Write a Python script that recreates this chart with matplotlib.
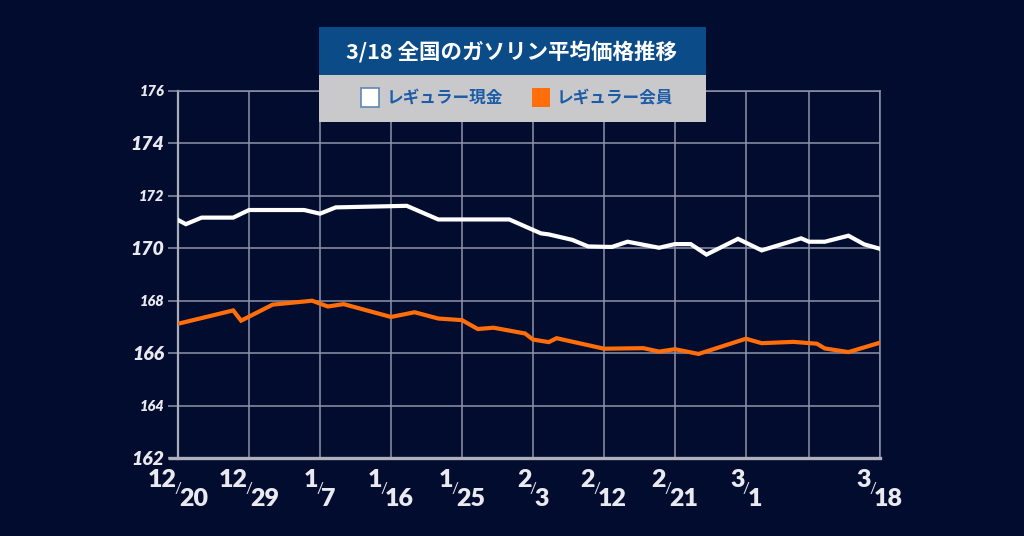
import matplotlib
matplotlib.use("Agg")
import matplotlib.pyplot as plt
import pandas as pd
from matplotlib.patches import Rectangle
from matplotlib.transforms import blended_transform_factory, offset_copy

# ---------------- data ----------------
cash_dates = ["2023-12-20", "2023-12-21", "2023-12-23", "2023-12-27", "2023-12-29",
              "2024-01-05", "2024-01-07", "2024-01-09", "2024-01-18", "2024-01-22",
              "2024-01-31", "2024-02-04", "2024-02-05", "2024-02-08", "2024-02-10",
              "2024-02-13", "2024-02-15", "2024-02-19", "2024-02-21", "2024-02-23",
              "2024-02-25", "2024-02-29", "2024-03-03", "2024-03-08", "2024-03-09",
              "2024-03-11", "2024-03-14", "2024-03-16", "2024-03-18"]
cash_values = [171.08, 170.92, 171.17, 171.17, 171.46,
               171.46, 171.32, 171.56, 171.62, 171.10,
               171.10, 170.57, 170.53, 170.32, 170.07,
               170.05, 170.25, 170.02, 170.16, 170.16,
               169.76, 170.36, 169.92, 170.38, 170.25,
               170.25, 170.48, 170.15, 169.98]

member_dates = ["2023-12-20", "2023-12-27", "2023-12-28", "2024-01-01", "2024-01-06",
                "2024-01-08", "2024-01-10", "2024-01-16", "2024-01-19", "2024-01-22",
                "2024-01-25", "2024-01-27", "2024-01-29", "2024-02-02", "2024-02-03",
                "2024-02-05", "2024-02-06", "2024-02-12", "2024-02-17", "2024-02-19",
                "2024-02-21", "2024-02-24", "2024-03-01", "2024-03-03", "2024-03-07",
                "2024-03-10", "2024-03-11", "2024-03-14", "2024-03-18"]
member_values = [167.12, 167.63, 167.24, 167.85, 168.00,
                 167.78, 167.87, 167.38, 167.56, 167.32,
                 167.26, 166.92, 166.97, 166.75, 166.52,
                 166.42, 166.57, 166.17, 166.19, 166.06,
                 166.15, 165.97, 166.55, 166.38, 166.43,
                 166.36, 166.18, 166.04, 166.40]

grid_dates = ["2023-12-20", "2023-12-29", "2024-01-07", "2024-01-16", "2024-01-25",
              "2024-02-03", "2024-02-12", "2024-02-21", "2024-03-01", "2024-03-09",
              "2024-03-18"]
label_dates = ["2023-12-20", "2023-12-29", "2024-01-07", "2024-01-16", "2024-01-25",
               "2024-02-03", "2024-02-12", "2024-02-21", "2024-03-01", "2024-03-18"]
label_num = ["12", "12", "1", "1", "1", "2", "2", "2", "3", "3"]
label_den = ["20", "29", "7", "16", "25", "3", "12", "21", "1", "18"]

y_ticks = [162, 164, 166, 168, 170, 172, 174, 176]
y_labels = ["162", "164", "166", "168", "170", "172", "174", "176"]
y_label_sizes = [14, 10.5, 14, 10.5, 14, 10.5, 14, 10.5]

title = "3/18 全国のガソリン平均価格推移"
legend_labels = ["レギュラー現金", "レギュラー会員"]

# ---------------- style ----------------
BG = "#010c2e"
GRID = "#8d93a8"
WHITE = "#ffffff"
ORANGE = "#ff6e0a"
TITLE_BG = "#0b4b87"
LEG_BG = "#c9c9cb"
LEG_TXT = "#1d5ca6"
TICK_TXT = "#e9e9ef"

plt.rcParams['font.family'] = ['Noto Sans CJK JP', 'DejaVu Sans']

fig = plt.figure(figsize=(10.24, 5.36), dpi=100, facecolor=BG)
W, H = 1024, 536
ax = fig.add_axes([178 / W, 1 - 458 / H, 702 / W, 367 / H])
ax.set_facecolor(BG)

cd = pd.to_datetime(cash_dates)
md = pd.to_datetime(member_dates)
ax.plot(cd, cash_values, color=WHITE, lw=3.0, solid_joinstyle='miter', zorder=3)
ax.plot(md, member_values, color=ORANGE, lw=3.0, solid_joinstyle='miter', zorder=3)

gd = pd.to_datetime(grid_dates)
ax.set_xlim(gd[0], gd[-1])
ax.set_ylim(162, 176)
ax.set_xticks(gd)
ax.set_xticklabels([])
ax.tick_params(axis='x', length=0)
ax.set_yticks(y_ticks)
ax.set_yticklabels(y_labels)
ax.tick_params(axis='y', length=7, width=1.1, color=GRID, pad=3, labelcolor=TICK_TXT)
for lab, s in zip(ax.get_yticklabels(), y_label_sizes):
    lab.set_fontsize(s)
    lab.set_fontfamily(['Lato', 'DejaVu Sans'])
    lab.set_fontweight('heavy')
    lab.set_fontstyle('italic')

ax.grid(True, color=GRID, lw=1.1, zorder=1)
ax.set_axisbelow(True)
for side in ['top', 'right']:
    ax.spines[side].set_color(GRID)
    ax.spines[side].set_linewidth(1.1)
ax.spines['left'].set_color('#a9adba')
ax.spines['left'].set_linewidth(1.6)
ax.spines['bottom'].set_color('#aeb1bc')
ax.spines['bottom'].set_linewidth(2.4)

# extend bottom line slightly left
ax.plot([-0.014, 0], [0, 0], transform=ax.transAxes, color='#aeb1bc', lw=2.4,
        clip_on=False, solid_capstyle='butt')

# ---------------- x tick labels (fraction style) ----------------
renderer = fig.canvas.get_renderer()
num_kw = dict(fontsize=18, fontweight='heavy', family=['Lato', 'DejaVu Sans'], color=TICK_TXT)
sl_kw = dict(fontsize=11, fontweight='normal', family=['Lato', 'DejaVu Sans'], color=TICK_TXT)

def txt_width(s, kw):
    t = fig.text(0, 0, s, **kw)
    w = t.get_window_extent(renderer).width
    t.remove()
    return w

base = blended_transform_factory(ax.transData, fig.transFigure)
for d, n, dd in zip(pd.to_datetime(label_dates), label_num, label_den):
    wn = txt_width(n, num_kw)
    ws = txt_width("/", sl_kw)
    wd = txt_width(dd, num_kw)
    total = wn + ws + wd - 4
    left = -total / 2
    ax.text(d, 1 - 487 / H, n, ha='left', va='baseline', clip_on=False,
            transform=offset_copy(base, fig=fig, x=left, y=0, units='dots'), **num_kw)
    ax.text(d, 1 - 489 / H, "/", ha='left', va='center', clip_on=False,
            transform=offset_copy(base, fig=fig, x=left + wn - 2, y=0, units='dots'), **sl_kw)
    ax.text(d, 1 - 506 / H, dd, ha='left', va='baseline', clip_on=False,
            transform=offset_copy(base, fig=fig, x=left + wn + ws - 4, y=0, units='dots'), **num_kw)

# ---------------- title & legend box ----------------
x0, x1 = 319 / W, 706 / W
fig.add_artist(Rectangle((x0, 1 - 75 / H), x1 - x0, 48 / H, transform=fig.transFigure,
                         facecolor=TITLE_BG, edgecolor='none', zorder=10))
fig.add_artist(Rectangle((x0, 1 - 122 / H), x1 - x0, 47 / H, transform=fig.transFigure,
                         facecolor=LEG_BG, edgecolor='none', zorder=10))
fig.text(512 / W, 1 - 52 / H, title, ha='center', va='center', color='white',
         fontsize=15.5, fontweight='bold', zorder=11,
         family=['Noto Sans CJK JP', 'DejaVu Sans'])

# legend swatches
fig.add_artist(Rectangle((361 / W, 1 - 107 / H), 18 / W, 19 / H, transform=fig.transFigure,
                         facecolor='white', edgecolor='#5f87b5', lw=1.2, zorder=11))
fig.add_artist(Rectangle((532 / W, 1 - 107 / H), 18 / W, 19 / H, transform=fig.transFigure,
                         facecolor=ORANGE, edgecolor='none', zorder=11))
fig.text(387 / W, 1 - 98 / H, legend_labels[0], ha='left', va='center', color=LEG_TXT,
         fontsize=12, fontweight='bold', zorder=11,
         family=['Noto Sans CJK JP', 'DejaVu Sans'])
fig.text(557 / W, 1 - 98 / H, legend_labels[1], ha='left', va='center', color=LEG_TXT,
         fontsize=12, fontweight='bold', zorder=11,
         family=['Noto Sans CJK JP', 'DejaVu Sans'])

fig.savefig("out.png", dpi=100, facecolor=BG)
